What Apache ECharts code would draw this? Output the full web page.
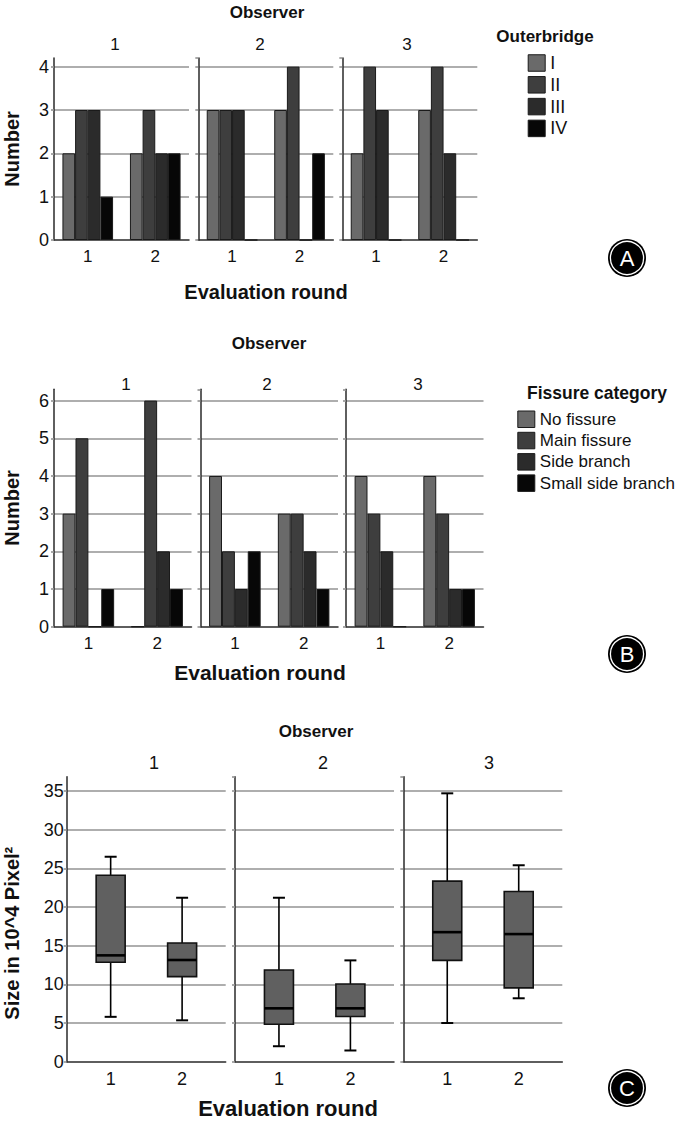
<!DOCTYPE html>
<html>
<head>
<meta charset="utf-8">
<script src="https://cdn.jsdelivr.net/npm/echarts@6/dist/echarts.min.js"></script>
<style>
html,body{margin:0;padding:0;background:#fff;}
#chart{width:678px;height:1125px;}
</style>
</head>
<body>
<div id="chart"></div>
<script>
// ---------- DATA ----------
const observers = ['1', '2', '3'];
const rounds = ['1', '2'];

// Panel A: Outerbridge grade counts, [observer][round]
const outerbridgeGrades = ['I', 'II', 'III', 'IV'];
const outerbridgeI   = [[2, 2], [3, 3], [2, 3]];
const outerbridgeII  = [[3, 3], [3, 4], [4, 4]];
const outerbridgeIII = [[3, 2], [3, 0], [3, 2]];
const outerbridgeIV  = [[1, 2], [0, 2], [0, 0]];

// Panel B: fissure category counts, [observer][round]
const fissureCategories = ['No fissure', 'Main fissure', 'Side branch', 'Small side branch'];
const noFissure       = [[3, 0], [4, 3], [4, 4]];
const mainFissure     = [[5, 6], [2, 3], [3, 3]];
const sideBranch      = [[0, 2], [1, 2], [2, 1]];
const smallSideBranch = [[1, 1], [2, 1], [0, 1]];

// Panel C: size boxplots [min, Q1, median, Q3, max], per round
const sizeObserver1 = [[5.8, 12.85, 13.75, 24.1, 26.5], [5.35, 11.0, 13.15, 15.35, 21.2]];
const sizeObserver2 = [[2.0, 4.85, 6.9, 11.85, 21.2], [1.45, 5.85, 6.9, 10.05, 13.1]];
const sizeObserver3 = [[5.0, 13.1, 16.75, 23.35, 34.7], [8.2, 9.55, 16.5, 22.0, 25.4]];

const countTickStepA = 1;
const countTickStepB = 1;
const sizeTickStep = 5;

// ---------- STYLE / LAYOUT ----------
const FONT = '"Liberation Sans", Arial, Helvetica, sans-serif';
const barColors = ['#6a6a6a', '#3e3e3e', '#2b2b2b', '#070707'];
const gridColor = '#939393';
const axisColor = '#2a2a2a';

const layA = { lefts: [54, 198.3, 342.3], width: 135, top: 58, height: 182, max: 4.2 };
const layB = { lefts: [54, 200.5, 346], width: 137.5, top: 389.3, height: 237.4, max: 6.3 };
const layC = { lefts: [66.7, 235, 403.3], width: 159, top: 776.7, height: 285, max: 36.85 };

const grids = [], xAxes = [], yAxes = [], series = [];

function addValueY(gi, lay, interval, first, name, nameGap, namePad, labelMargin) {
  yAxes.push({
    type: 'value', gridIndex: gi, min: 0, max: lay.max, interval: interval,
    axisLine: { show: true, lineStyle: { color: axisColor, width: 1.5 } },
    axisTick: { show: true, length: 3, lineStyle: { color: gridColor, width: 1.6 } },
    axisLabel: { show: first, showMaxLabel: false, fontSize: 18, color: '#111', fontFamily: FONT, margin: labelMargin },
    splitLine: { show: true, showMaxLine: false, showMinLine: false, lineStyle: { color: gridColor, width: 1.6 } },
    name: first ? name : '',
    nameLocation: 'middle', nameRotate: 90, nameGap: nameGap,
    nameTextStyle: { fontSize: 20, fontWeight: 'bold', color: '#111', fontFamily: FONT, padding: namePad || 0 }
  });
}

function addBarPanel(lay, interval, groups, names, yName) {
  observers.forEach((obs, f) => {
    const gi = grids.length;
    grids.push({ left: lay.lefts[f], top: lay.top, width: lay.width, height: lay.height, containLabel: false });
    xAxes.push({
      type: 'category', gridIndex: gi, data: rounds,
      axisLine: { show: true, lineStyle: { color: axisColor, width: 1.5 } },
      axisTick: { show: false },
      axisLabel: { fontSize: 17, color: '#111', fontFamily: FONT, margin: 8 }
    });
    addValueY(gi, lay, interval, f === 0, yName, 32, 0, 5);
    groups.forEach((arr, g) => {
      series.push({
        type: 'bar', name: names[g], xAxisIndex: gi, yAxisIndex: gi,
        data: arr[f],
        barGap: '0%', barCategoryGap: '25%',
        itemStyle: { color: barColors[g], borderColor: '#1a1a1a', borderWidth: 1 },
        emphasis: { disabled: true }
      });
    });
  });
}

addBarPanel(layA, countTickStepA, [outerbridgeI, outerbridgeII, outerbridgeIII, outerbridgeIV], outerbridgeGrades, 'Number');
addBarPanel(layB, countTickStepB, [noFissure, mainFissure, sideBranch, smallSideBranch], fissureCategories, 'Number');

// Panel C boxplots
const BOX_W = 29, CAP_W = 12;
function renderBox(params, api) {
  const x = api.value(0);
  const lo = api.coord([x, api.value(1)]);
  const q1 = api.coord([x, api.value(2)]);
  const md = api.coord([x, api.value(3)]);
  const q3 = api.coord([x, api.value(4)]);
  const hi = api.coord([x, api.value(5)]);
  const cx = lo[0];
  const ln = { stroke: '#000', lineWidth: 1.6 };
  return {
    type: 'group',
    children: [
      { type: 'line', shape: { x1: cx, y1: lo[1], x2: cx, y2: q1[1] }, style: ln },
      { type: 'line', shape: { x1: cx, y1: q3[1], x2: cx, y2: hi[1] }, style: ln },
      { type: 'line', shape: { x1: cx - CAP_W / 2, y1: lo[1], x2: cx + CAP_W / 2, y2: lo[1] }, style: { stroke: '#000', lineWidth: 2 } },
      { type: 'line', shape: { x1: cx - CAP_W / 2, y1: hi[1], x2: cx + CAP_W / 2, y2: hi[1] }, style: { stroke: '#000', lineWidth: 2 } },
      { type: 'rect', shape: { x: cx - BOX_W / 2, y: q3[1], width: BOX_W, height: q1[1] - q3[1] },
        style: { fill: '#606060', stroke: '#111', lineWidth: 1.6 } },
      { type: 'line', shape: { x1: cx - BOX_W / 2, y1: md[1], x2: cx + BOX_W / 2, y2: md[1] }, style: { stroke: '#000', lineWidth: 2.6 } }
    ]
  };
}
[sizeObserver1, sizeObserver2, sizeObserver3].forEach((stats, f) => {
  const gi = grids.length;
  grids.push({ left: layC.lefts[f], top: layC.top, width: layC.width, height: layC.height, containLabel: false });
  xAxes.push({
    type: 'value', gridIndex: gi, min: 0.385, max: 2.61,
    axisLine: { show: true, onZero: false, lineStyle: { color: axisColor, width: 1.5 } },
    axisTick: { show: false },
    splitLine: { show: false },
    axisLabel: { customValues: rounds.map(Number), fontSize: 18, color: '#111', fontFamily: FONT, margin: 8 }
  });
  addValueY(gi, layC, sizeTickStep, f === 0, 'Size in 10^4 Pixel\u00B2', 45, [0, 28, 0, 0], 3);
  series.push({
    type: 'custom', name: 'Observer ' + observers[f], xAxisIndex: gi, yAxisIndex: gi,
    renderItem: renderBox,
    encode: { x: 0, y: [1, 2, 3, 4, 5] },
    data: stats.map((s, i) => [Number(rounds[i])].concat(s))
  });
});

// ---------- TEXT / DECOR ----------
function txt(x, y, text, size, bold, align) {
  return { type: 'text', x: x, y: y, silent: true,
    style: { text: text, fontSize: size, fontWeight: bold ? 'bold' : 'normal', fontFamily: FONT,
      fill: '#111', textAlign: align || 'center', textVerticalAlign: 'middle' } };
}
function badge(cx, cy, letter) {
  return { type: 'group', silent: true, children: [
    { type: 'circle', shape: { cx: cx, cy: cy, r: 19 }, style: { fill: '#000' } },
    { type: 'circle', shape: { cx: cx, cy: cy, r: 16.6 }, style: { fill: 'none', stroke: '#fff', lineWidth: 1.3 } },
    { type: 'text', x: cx, y: cy + 0.5, style: { text: letter, fontSize: 22, fontFamily: FONT, fill: '#fff', textAlign: 'center', textVerticalAlign: 'middle' } }
  ]};
}

const graphics = [
  txt(267, 12, 'Observer', 17, true),
  txt(115, 44, observers[0], 17), txt(260, 44, observers[1], 17), txt(407, 44, observers[2], 17),
  txt(266, 292, 'Evaluation round', 20, true),
  txt(545, 36, 'Outerbridge', 17, true),
  badge(627, 258, 'A'),

  txt(269, 343, 'Observer', 17, true),
  txt(126, 384, observers[0], 17), txt(267, 384, observers[1], 17), txt(418, 384, observers[2], 17),
  txt(260, 672, 'Evaluation round', 21, true),
  txt(597, 393, 'Fissure category', 17.5, true),
  badge(627, 654, 'B'),

  txt(316, 731, 'Observer', 17, true),
  txt(154, 763, observers[0], 18), txt(323, 763, observers[1], 18), txt(489, 763, observers[2], 18),
  txt(288, 1108, 'Evaluation round', 22, true),
  badge(627, 1088, 'C')
];

const legendCommon = {
  orient: 'vertical', icon: 'rect', itemWidth: 17, itemHeight: 16.5, itemGap: 3.8,
  padding: 0, selectedMode: false,
  itemStyle: { borderColor: '#1a1a1a', borderWidth: 1 }
};

const option = {
  animation: false,
  backgroundColor: '#fff',
  textStyle: { fontFamily: FONT },
  grid: grids,
  xAxis: xAxes,
  yAxis: yAxes,
  series: series,
  legend: [
    Object.assign({}, legendCommon, { data: outerbridgeGrades, left: 527.7, top: 54,
      textStyle: { fontSize: 18, color: '#111', fontFamily: FONT } }),
    Object.assign({}, legendCommon, { data: fissureCategories, left: 517.3, top: 410.5,
      textStyle: { fontSize: 17, color: '#111', fontFamily: FONT } })
  ],
  graphic: graphics
};

const chart = echarts.init(document.getElementById('chart'), null, { renderer: 'svg' });
chart.setOption(option);
</script>
</body>
</html>
